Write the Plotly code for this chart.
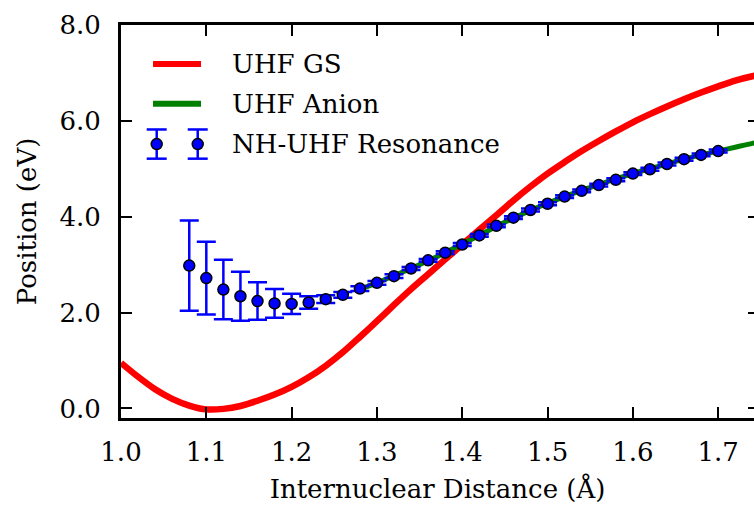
import plotly.graph_objects as go

# UHF ground-state curve
r_gs = [1.00, 1.02, 1.04, 1.06, 1.08, 1.10, 1.12, 1.14, 1.16, 1.18, 1.20,
        1.22, 1.24, 1.26, 1.28, 1.30, 1.32, 1.34, 1.36, 1.38, 1.40, 1.42,
        1.44, 1.46, 1.48, 1.50, 1.52, 1.54, 1.56, 1.58, 1.60, 1.62, 1.64,
        1.66, 1.68, 1.70, 1.72, 1.74, 1.76]
e_gs = [0.95, 0.66, 0.40, 0.20, 0.06, -0.02, -0.01, 0.05, 0.16, 0.29, 0.45,
        0.65, 0.89, 1.17, 1.49, 1.82, 2.16, 2.49, 2.80, 3.11, 3.42, 3.73,
        4.03, 4.34, 4.63, 4.90, 5.14, 5.37, 5.58, 5.78, 5.97, 6.14, 6.30,
        6.45, 6.59, 6.72, 6.84, 6.93, 7.00]

# UHF anion curve
r_anion = [1.28, 1.30, 1.32, 1.34, 1.36, 1.38, 1.40, 1.42, 1.44, 1.46, 1.48,
           1.50, 1.52, 1.54, 1.56, 1.58, 1.60, 1.62, 1.64, 1.66, 1.68, 1.70,
           1.72, 1.74, 1.76]
e_anion = [2.49, 2.62, 2.77, 2.92, 3.08, 3.25, 3.43, 3.61, 3.80, 3.97, 4.13,
           4.28, 4.42, 4.55, 4.67, 4.79, 4.90, 5.00, 5.10, 5.20, 5.29, 5.37,
           5.45, 5.53, 5.60]

# NH-UHF resonance positions with uncertainties
r_res = [1.08, 1.10, 1.12, 1.14, 1.16, 1.18, 1.20, 1.22, 1.24, 1.26, 1.28,
         1.30, 1.32, 1.34, 1.36, 1.38, 1.40, 1.42, 1.44, 1.46, 1.48, 1.50,
         1.52, 1.54, 1.56, 1.58, 1.60, 1.62, 1.64, 1.66, 1.68, 1.70]
e_res = [2.98, 2.72, 2.48, 2.34, 2.24, 2.19, 2.18, 2.21, 2.28, 2.37, 2.50,
         2.62, 2.76, 2.92, 3.09, 3.25, 3.42, 3.61, 3.81, 3.98, 4.14, 4.27,
         4.42, 4.54, 4.66, 4.77, 4.90, 4.99, 5.10, 5.20, 5.29, 5.37]
err_res = [0.94, 0.76, 0.62, 0.51, 0.39, 0.30, 0.21, 0.13, 0.08, 0.06, 0.05,
           0.04, 0.04, 0.03, 0.03, 0.03, 0.03, 0.03, 0.03, 0.03, 0.03, 0.03,
           0.03, 0.03, 0.03, 0.03, 0.03, 0.03, 0.03, 0.03, 0.03, 0.03]

x_ticks = [1.0, 1.1, 1.2, 1.3, 1.4, 1.5, 1.6, 1.7]
y_ticks = [0.0, 2.0, 4.0, 6.0, 8.0]
legend_labels = ["UHF GS", "UHF Anion", "NH-UHF Resonance"]

FONT = "DejaVu Serif"
FS = 26
RED, GREEN, BLUE = "#ff0000", "#008000", "#0000ff"

fig = go.Figure()
fig.add_trace(go.Scatter(x=r_gs, y=e_gs, mode="lines",
                         line=dict(color=RED, width=6.5, shape="spline",
                                   smoothing=0.8),
                         showlegend=False))
fig.add_trace(go.Scatter(x=r_anion, y=e_anion, mode="lines",
                         line=dict(color=GREEN, width=5, shape="spline",
                                   smoothing=0.8),
                         showlegend=False))
fig.add_trace(go.Scatter(
    x=r_res, y=e_res, mode="markers",
    marker=dict(color=BLUE, size=11, line=dict(color="black", width=1.5)),
    error_y=dict(type="data", array=err_res, visible=True,
                 color=BLUE, thickness=2.5, width=9.5),
    showlegend=False))
# tick stubs along the right edge
fig.add_trace(go.Scatter(x=[None], y=[None], yaxis="y2", showlegend=False,
                         hoverinfo="skip"))

# hand-placed legend
shapes = []
annotations = []
row_y = [0.901, 0.7995, 0.697]
kx0, kx1 = 0.0506, 0.1264
for yy, col in zip(row_y[:2], [RED, GREEN]):
    shapes.append(dict(type="line", xref="paper", yref="paper",
                       x0=kx0, x1=kx1, y0=yy, y1=yy,
                       line=dict(color=col, width=6)))
for xa in [0.0564, 0.1212]:
    ya = row_y[2]
    common = dict(xref="paper", yref="paper", xsizemode="pixel",
                  ysizemode="pixel", xanchor=xa, yanchor=ya)
    shapes.append(dict(type="line", x0=0, x1=0, y0=-14.6, y1=14.6,
                       line=dict(color=BLUE, width=2.5), **common))
    for cy in (-14.6, 14.6):
        shapes.append(dict(type="line", x0=-10, x1=10, y0=cy, y1=cy,
                           line=dict(color=BLUE, width=2.5), **common))
    shapes.append(dict(type="circle", x0=-5.5, x1=5.5, y0=-5.5, y1=5.5,
                       fillcolor=BLUE, line=dict(color="black", width=1.5),
                       **common))
for yy, txt in zip(row_y, legend_labels):
    annotations.append(dict(text=txt, xref="paper", yref="paper", x=0.1722,
                            y=yy, xanchor="left", yanchor="middle",
                            showarrow=False,
                            font=dict(family=FONT, size=FS, color="black")))

axis_common = dict(showgrid=False, zeroline=False, showline=True,
                   linecolor="black", linewidth=3, ticks="inside",
                   ticklen=11, tickwidth=1.6, tickcolor="black",
                   tickfont=dict(family=FONT, size=FS, color="black"))

fig.update_layout(
    width=754, height=505,
    margin=dict(l=121, r=0, t=25, b=87),
    paper_bgcolor="white", plot_bgcolor="white",
    font=dict(family=FONT),
    shapes=shapes, annotations=annotations,
    xaxis=dict(range=[1.0, 1.742], tickvals=x_ticks, tickformat=".1f",
               mirror="ticks", ticklabelstandoff=9,
               title=dict(text="Internuclear Distance (Å)", standoff=14,
                          font=dict(family=FONT, size=FS, color="black")),
               **axis_common),
    yaxis=dict(range=[-0.2, 8.0], tickvals=y_ticks, tickformat=".1f",
               ticklabelstandoff=12,
               title=dict(text="Position (eV)", standoff=16,
                          font=dict(family=FONT, size=FS, color="black")),
               **axis_common),
    yaxis2=dict(overlaying="y", side="right", matches="y", range=[-0.2, 8.0],
                tickvals=y_ticks, ticks="inside", ticklen=6, tickwidth=1.6,
                tickcolor="black", showticklabels=False, showline=False,
                showgrid=False, zeroline=False),
)

fig.write_html("out.html")
